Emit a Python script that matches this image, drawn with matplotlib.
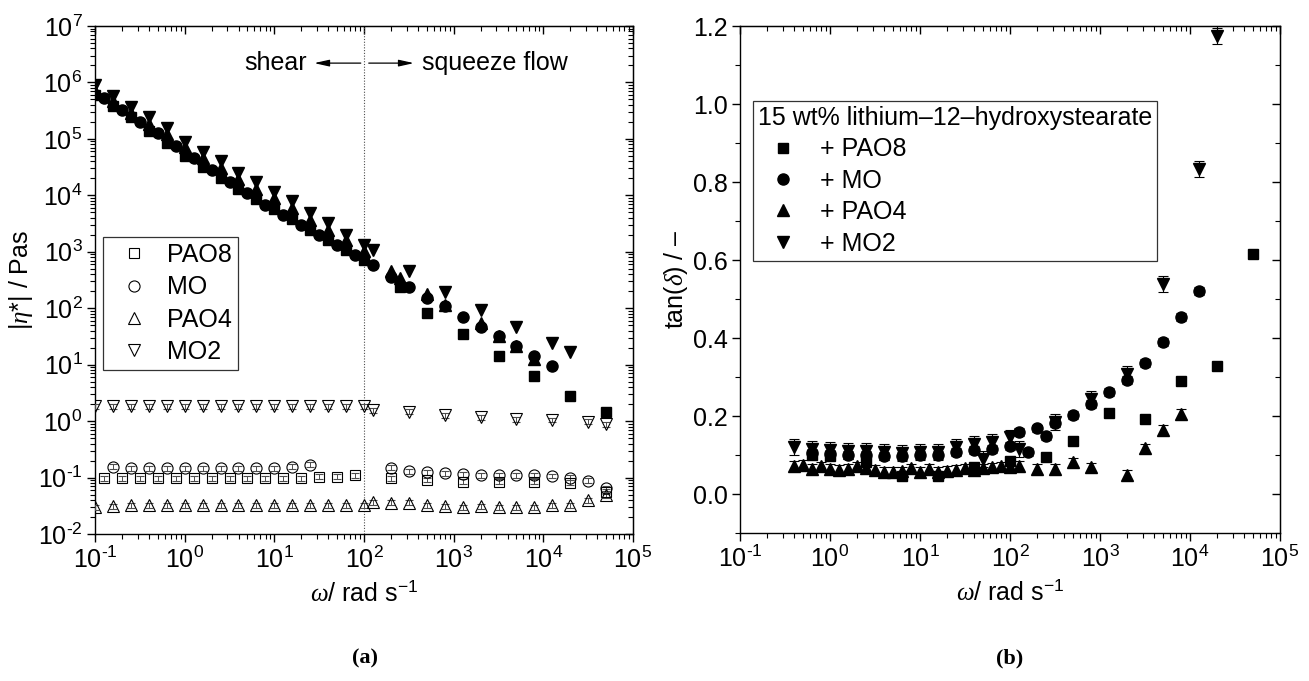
import numpy as np
import matplotlib
matplotlib.use('Agg')
import matplotlib.pyplot as plt
from matplotlib.lines import Line2D
from matplotlib.ticker import (FixedLocator, MultipleLocator, FuncFormatter, NullFormatter,
                               FormatStrFormatter)

plt.rcParams['font.family'] = ['Liberation Sans', 'DejaVu Sans']
plt.rcParams['mathtext.fontset'] = 'custom'
plt.rcParams['mathtext.rm'] = 'Liberation Sans'
plt.rcParams['mathtext.it'] = 'Liberation Serif:italic'
plt.rcParams['mathtext.bf'] = 'Liberation Sans:bold'

# ---------------- data: panel (a), |eta*| / Pas vs log10(omega / rad s^-1) ----------------
# greases (filled symbols)
g_pao8_lgw = [-1.0, -0.8, -0.6, -0.4, -0.2, 0.0, 0.2, 0.4, 0.6, 0.8, 1.0, 1.2, 1.4, 1.6, 1.8, 2.0,
              2.4, 2.7, 3.1, 3.5, 3.9, 4.3, 4.7]
g_pao8_eta = [6.0e5, 3.8e5, 2.4e5, 1.4e5, 8.3e4, 5.0e4, 3.2e4, 2.0e4, 1.3e4, 8.7e3, 5.75e3, 3.8e3,
              2.45e3, 1.6e3, 1.07e3, 710, 240, 81, 35, 14, 6.3, 2.75, 1.48]
g_mo_lgw = [-0.9, -0.7, -0.5, -0.3, -0.1, 0.1, 0.3, 0.5, 0.7, 0.9, 1.1, 1.3, 1.5, 1.7, 1.9, 2.1,
            2.3, 2.5, 2.7, 2.9, 3.1, 3.3, 3.5, 3.7, 3.9, 4.1]
g_mo_eta = [5.2e5, 3.3e5, 2.0e5, 1.25e5, 7.6e4, 4.6e4, 2.8e4, 1.75e4, 1.12e4, 6.8e3, 4.5e3, 3.0e3,
            2.0e3, 1.3e3, 870, 590, 363, 240, 151, 110, 69, 46, 32, 21, 14, 9.3]
g_pao4_lgw = [-1.0, -0.8, -0.6, -0.4, -0.2, 0.0, 0.2, 0.4, 0.6, 0.8, 1.0, 1.2, 1.4, 1.6, 1.8, 2.0,
              2.3, 2.4, 2.7, 2.9, 3.3, 3.5, 3.7, 3.9]
g_pao4_eta = [7.1e5, 4.6e5, 2.9e5, 1.86e5, 1.2e5, 7.2e4, 4.6e4, 3.0e4, 1.95e4, 1.3e4, 8.9e3, 5.9e3,
              3.7e3, 2.45e3, 1.6e3, 1.05e3, 450, 340, 180, 115, 54, 32, 21, 12.6]
g_mo2_lgw = [-1.0, -0.8, -0.6, -0.4, -0.2, 0.0, 0.2, 0.4, 0.6, 0.8, 1.0, 1.2, 1.4, 1.6, 1.8, 2.0,
             2.1, 2.5, 2.9, 3.3, 3.7, 4.1, 4.3]
g_mo2_eta = [8.9e5, 5.75e5, 3.7e5, 2.4e5, 1.55e5, 8.9e4, 5.9e4, 4.0e4, 2.5e4, 1.7e4, 1.15e4, 7.8e3,
             4.8e3, 3.2e3, 2.0e3, 1.3e3, 1.07e3, 450, 195, 93, 46, 24, 17]

# base oils (open symbols)
o_pao8_lgw = [-0.9, -0.7, -0.5, -0.3, -0.1, 0.1, 0.3, 0.5, 0.7, 0.9, 1.1, 1.3, 1.5, 1.7, 1.9,
              2.3, 2.7, 3.1, 3.5, 3.9, 4.3, 4.7]
o_pao8_eta = [0.098, 0.098, 0.098, 0.098, 0.098, 0.098, 0.098, 0.098, 0.098, 0.098, 0.098, 0.098,
              0.104, 0.104, 0.11, 0.098, 0.091, 0.085, 0.085, 0.085, 0.081, 0.056]
o_mo_lgw = [-0.8, -0.6, -0.4, -0.2, 0.0, 0.2, 0.4, 0.6, 0.8, 1.0, 1.2, 1.4,
            2.3, 2.5, 2.7, 2.9, 3.1, 3.3, 3.5, 3.7, 3.9, 4.1, 4.3, 4.5, 4.7]
o_mo_eta = [0.155, 0.146, 0.146, 0.146, 0.146, 0.146, 0.146, 0.146, 0.146, 0.146, 0.155, 0.17,
            0.15, 0.13, 0.123, 0.119, 0.115, 0.111, 0.111, 0.111, 0.111, 0.107, 0.100, 0.088, 0.065]
o_pao4_lgw = [-1.0, -0.8, -0.6, -0.4, -0.2, 0.0, 0.2, 0.4, 0.6, 0.8, 1.0, 1.2, 1.4, 1.6, 1.8, 2.0, 2.1,
              2.3, 2.5, 2.7, 2.9, 3.1, 3.3, 3.5, 3.7, 3.9, 4.1, 4.3, 4.5, 4.7]
o_pao4_eta = [0.030, 0.031, 0.032, 0.032, 0.032, 0.032, 0.032, 0.032, 0.032, 0.032, 0.032, 0.032,
              0.032, 0.032, 0.032, 0.032, 0.037, 0.036, 0.036, 0.032, 0.031, 0.030, 0.031, 0.030,
              0.030, 0.030, 0.032, 0.032, 0.040, 0.049]
o_mo2_lgw = [-1.0, -0.8, -0.6, -0.4, -0.2, 0.0, 0.2, 0.4, 0.6, 0.8, 1.0, 1.2, 1.4, 1.6, 1.8, 2.0,
             2.1, 2.5, 2.9, 3.3, 3.7, 4.1, 4.5, 4.7]
o_mo2_eta = [1.85, 1.85, 1.85, 1.85, 1.85, 1.85, 1.85, 1.85, 1.85, 1.85, 1.85, 1.85, 1.85, 1.85,
             1.85, 1.85, 1.57, 1.47, 1.28, 1.17, 1.09, 1.05, 0.975, 0.89]
oil_rel_err = 0.1

# ---------------- data: panel (b), tan(delta) ----------------
t_pao8_lgw = [-0.2, 0.0, 0.4, 0.8, 1.2, 1.6, 2.0, 2.4, 2.7, 3.1, 3.5, 3.9, 4.3, 4.7]
t_pao8 = [0.100, 0.098, 0.081, 0.047, 0.045, 0.068, 0.085, 0.094, 0.137, 0.207, 0.192, 0.289,
          0.327, 0.615]
t_mo_lgw = [-0.2, 0.0, 0.2, 0.4, 0.6, 0.8, 1.0, 1.2, 1.4, 1.6, 1.8, 2.0, 2.1, 2.2, 2.3, 2.4, 2.5,
            2.7, 2.9, 3.1, 3.3, 3.5, 3.7, 3.9, 4.1]
t_mo = [0.105, 0.103, 0.100, 0.100, 0.097, 0.097, 0.100, 0.100, 0.108, 0.112, 0.115, 0.124, 0.158,
        0.108, 0.168, 0.148, 0.182, 0.203, 0.231, 0.261, 0.293, 0.336, 0.389, 0.453, 0.521]
t_pao4_lgw = [-0.4, -0.3, -0.2, -0.1, 0.0, 0.1, 0.2, 0.3, 0.4, 0.5, 0.6, 0.7, 0.8, 0.9, 1.0, 1.1,
              1.2, 1.3, 1.4, 1.5, 1.6, 1.7, 1.8, 1.9, 2.0, 2.1, 2.3, 2.5, 2.7, 2.9, 3.3, 3.5, 3.7, 3.9]
t_pao4 = [0.073, 0.074, 0.065, 0.071, 0.065, 0.062, 0.065, 0.071, 0.066, 0.062, 0.057, 0.056,
          0.058, 0.066, 0.056, 0.064, 0.057, 0.060, 0.062, 0.066, 0.062, 0.066, 0.068, 0.071,
          0.070, 0.073, 0.064, 0.064, 0.081, 0.068, 0.049, 0.117, 0.164, 0.205]
t_mo2_lgw = [-0.4, -0.2, 0.0, 0.2, 0.4, 0.6, 0.8, 1.0, 1.2, 1.4, 1.6, 1.7, 1.8, 2.0, 2.1, 2.5, 2.9,
             3.3, 3.7, 4.1, 4.3]
t_mo2 = [0.120, 0.115, 0.113, 0.110, 0.110, 0.107, 0.105, 0.108, 0.108, 0.120, 0.128, 0.090, 0.133,
         0.145, 0.115, 0.185, 0.244, 0.308, 0.538, 0.833, 1.175]
t_err = {'PAO8': 0.008, 'MO': 0.010, 'PAO4': 0.012, 'MO2': 0.020}

# axis decades shown
x_decades = [-1, 0, 1, 2, 3, 4, 5]
y_decades = [-2, -1, 0, 1, 2, 3, 4, 5, 6, 7]

names = ['PAO8', 'MO', 'PAO4', 'MO2']
markers = {'PAO8': 's', 'MO': 'o', 'PAO4': '^', 'MO2': 'v'}
msize = {'PAO8': 7.5, 'MO': 8, 'PAO4': 8.5, 'MO2': 8.5}

FS = 18
W, H = 1309, 681
fig = plt.figure(figsize=(W / 100, H / 100), dpi=100)
axA = fig.add_axes([95 / W, (H - 534) / H, 538 / W, 508 / H])
axB = fig.add_axes([740 / W, (H - 533) / H, 540 / W, 507 / H])

def w(lg):
    return np.power(10.0, np.asarray(lg, dtype=float))

def major_locs(decs):
    return FixedLocator(w(decs))

def minor_locs(decs):
    return FixedLocator([m * 10.0 ** d for d in decs[:-1] for m in range(2, 10)])

decade_fmt = FuncFormatter(
    lambda v, p: r'$\mathregular{10^{\text{-}%d}}$' % abs(int(round(np.log10(v))))
    if v < 1 else r'$\mathregular{10^{%d}}$' % int(round(np.log10(v))))

# ---------- panel (a) ----------
oils = {'PAO8': (o_pao8_lgw, o_pao8_eta), 'MO': (o_mo_lgw, o_mo_eta),
        'PAO4': (o_pao4_lgw, o_pao4_eta), 'MO2': (o_mo2_lgw, o_mo2_eta)}
greases = {'PAO8': (g_pao8_lgw, g_pao8_eta), 'MO': (g_mo_lgw, g_mo_eta),
           'PAO4': (g_pao4_lgw, g_pao4_eta), 'MO2': (g_mo2_lgw, g_mo2_eta)}
for n in names:
    lg, eta = oils[n]
    eta = np.asarray(eta)
    axA.errorbar(w(lg), eta, yerr=eta * oil_rel_err, fmt=markers[n], ms=msize[n],
                 mfc='none', mec='black', mew=0.8, ecolor='0.3', elinewidth=0.7,
                 capsize=3, capthick=0.7, zorder=3)
for n in names:
    lg, eta = greases[n]
    axA.plot(w(lg), eta, ls='none', marker=markers[n], ms=msize[n], color='black', zorder=4)

axA.set_xscale('log')
axA.set_yscale('log')
axA.set_xlim(1e-1, 1e5)
axA.set_ylim(1e-2, 1e7)
axA.axvline(100, color='0.3', lw=0.8, ls=(0, (1, 1.5)), zorder=1)

arrow_kw = dict(arrowstyle='-|>,head_length=0.9,head_width=0.2', color='black', lw=0.9,
                shrinkA=0, shrinkB=0)
axA.annotate('', xy=(27.8, 2.2e6), xytext=(92, 2.2e6), arrowprops=arrow_kw)
axA.annotate('', xy=(360, 2.2e6), xytext=(113, 2.2e6), arrowprops=arrow_kw)
axA.text(23.0, 2.2e6, 'shear', ha='right', va='center', fontsize=FS)
axA.text(445, 2.2e6, 'squeeze flow', ha='left', va='center', fontsize=FS)

axA.set_xlabel(r'$\omega$/ rad s$^{-1}$', fontsize=FS, labelpad=6)
axA.set_ylabel(r'$|\eta$*$|$ / Pas', fontsize=FS, labelpad=2)

leg_handles = [Line2D([], [], ls='none', marker=markers[n], ms=msize[n], mfc='none', mec='black',
                      mew=0.8) for n in names]
legA = axA.legend(leg_handles, names, loc='upper left', bbox_to_anchor=(0.015, 0.585),
                  borderaxespad=0, fontsize=FS, frameon=True, fancybox=False, edgecolor='black',
                  handlelength=2.0, handletextpad=0.3, labelspacing=0.33, borderpad=0.25)
legA.get_frame().set_linewidth(0.9)

# ---------- panel (b) ----------
tans = {'PAO8': (t_pao8_lgw, t_pao8), 'MO': (t_mo_lgw, t_mo),
        'PAO4': (t_pao4_lgw, t_pao4), 'MO2': (t_mo2_lgw, t_mo2)}
for n in names:
    lg, t = tans[n]
    axB.errorbar(w(lg), t, yerr=t_err[n], fmt=markers[n], ms=msize[n], color='black',
                 ecolor='black', elinewidth=0.8, capsize=3.5, capthick=0.8, zorder=3)
axB.set_xscale('log')
axB.set_xlim(1e-1, 1e5)
axB.set_ylim(-0.1, 1.2)
axB.yaxis.set_major_locator(MultipleLocator(0.2))
axB.yaxis.set_minor_locator(MultipleLocator(0.1))
axB.yaxis.set_major_formatter(FormatStrFormatter('%.1f'))
axB.set_xlabel(r'$\omega$/ rad s$^{-1}$', fontsize=FS, labelpad=6)
axB.set_ylabel(r'tan($\delta$) / –', fontsize=FS, labelpad=2)

legB_handles = [Line2D([], [], ls='none', marker=markers[n], ms=msize[n], color='black')
                for n in names]
legB = axB.legend(legB_handles, ['+ ' + n for n in names],
                  title='15 wt% lithium\u201312\u2013hydroxystearate', title_fontsize=FS,
                  loc='upper left', bbox_to_anchor=(0.024, 0.852), borderaxespad=0,
                  fontsize=FS, frameon=True, fancybox=False, edgecolor='black',
                  handlelength=2.0, handletextpad=0.5, labelspacing=0.295, borderpad=0.2,
                  alignment='left')
legB.get_frame().set_linewidth(0.9)

# ---------- ticks ----------
for ax in (axA, axB):
    for s in ax.spines.values():
        s.set_linewidth(1.0)
    ax.xaxis.set_major_locator(major_locs(x_decades))
    ax.xaxis.set_minor_locator(minor_locs(x_decades))
    ax.xaxis.set_major_formatter(decade_fmt)
    ax.xaxis.set_minor_formatter(NullFormatter())
    ax.tick_params(which='major', direction='out', length=6, width=1.0, labelsize=FS, pad=3)
    ax.tick_params(which='minor', direction='out', length=3.5, width=0.8)
    ax.tick_params(top=False, right=False)
    sx = ax.secondary_xaxis('top')
    sx.xaxis.set_major_locator(major_locs(x_decades))
    sx.xaxis.set_minor_locator(minor_locs(x_decades))
    sx.xaxis.set_major_formatter(NullFormatter())
    sx.xaxis.set_minor_formatter(NullFormatter())
    sx.tick_params(which='major', direction='in', length=6, width=1.0, labeltop=False)
    sx.tick_params(which='minor', direction='in', length=3.5, width=0.8)

axA.yaxis.set_major_locator(major_locs(y_decades))
axA.yaxis.set_minor_locator(minor_locs(y_decades))
axA.yaxis.set_major_formatter(decade_fmt)
axA.yaxis.set_minor_formatter(NullFormatter())
syA = axA.secondary_yaxis('right')
syA.yaxis.set_major_locator(major_locs(y_decades))
syA.yaxis.set_minor_locator(minor_locs(y_decades))
syA.yaxis.set_major_formatter(NullFormatter())
syA.yaxis.set_minor_formatter(NullFormatter())
syA.tick_params(which='major', direction='in', length=6, width=1.0, labelright=False)
syA.tick_params(which='minor', direction='in', length=3.5, width=0.8)

syB = axB.secondary_yaxis('right')
syB.yaxis.set_major_locator(MultipleLocator(0.2))
syB.yaxis.set_minor_locator(MultipleLocator(0.1))
syB.yaxis.set_major_formatter(NullFormatter())
syB.tick_params(which='major', direction='in', length=6, width=1.0, labelright=False)
syB.tick_params(which='minor', direction='in', length=3.5, width=0.8)

fig.text(365 / W, 1 - 658 / H, '(a)', ha='center', va='center', fontsize=16,
         family=['Liberation Serif', 'DejaVu Serif'], fontweight='bold')
fig.text(1010 / W, 1 - 658 / H, '(b)', ha='center', va='center', fontsize=16,
         family=['Liberation Serif', 'DejaVu Serif'], fontweight='bold')

fig.savefig('out.png', dpi=100)
